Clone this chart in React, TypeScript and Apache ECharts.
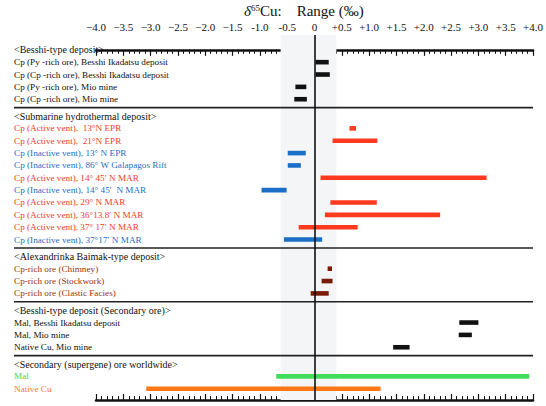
import React, { useEffect, useRef } from "react";
import * as echarts from "echarts";

// ---- data ----
const headers = [
  "<Besshi-type deposit>",
  "<Submarine hydrothermal deposit>",
  "<Alexandrinka Baimak-type deposit>",
  "<Besshi-type deposit (Secondary ore)>",
  "<Secondary (supergene) ore worldwide>",
];

const rowLabels: string[][] = [
  [
    "Cp (Py -rich ore), Besshi Ikadatsu deposit",
    "Cp (Cp -rich ore), Besshi Ikadatsu deposit",
    "Cp (Py -rich ore), Mio mine",
    "Cp (Cp -rich ore), Mio mine",
  ],
  [
    "Cp (Active vent),  13°N EPR",
    "Cp (Active vent),  21°N EPR",
    "Cp (Inactive vent), 13° N EPR",
    "Cp (Inactive vent), 86° W Galapagos Rift",
    "Cp (Active vent), 14° 45′ N MAR",
    "Cp (Inactive vent), 14° 45′  N MAR",
    "Cp (Active vent), 29° N MAR",
    "Cp (Active vent), 36°13.8′ N MAR",
    "Cp (Active vent), 37° 17′ N MAR",
    "Cp (Inactive vent), 37°17′ N MAR",
  ],
  [
    "Cp-rich ore (Chimney)",
    "Cp-rich ore (Stockwork)",
    "Cp-rich ore (Clastic Facies)",
  ],
  [
    "Mal, Besshi Ikadatsu deposit",
    "Mal, Mio mine",
    "Native Cu, Mio mine",
  ],
  ["Mal", "Native Cu"],
];

const rowLow: number[][] = [
  [0.02, 0.02, -0.35, -0.37],
  [0.64, 0.33, -0.49, -0.49, 0.11, -0.97, 0.29, 0.19, -0.29, -0.56],
  [0.24, 0.13, -0.07],
  [2.65, 2.64, 1.44],
  [-0.7, -3.08],
];

const rowHigh: number[][] = [
  [0.26, 0.28, -0.15, -0.14],
  [0.76, 1.15, -0.16, -0.25, 3.15, -0.51, 1.14, 2.3, 0.79, 0.14],
  [0.32, 0.33, 0.26],
  [3.0, 2.88, 1.74],
  [3.93, 1.21],
];

const rowKind: string[][] = [
  ["plain", "plain", "plain", "plain"],
  ["active", "active", "inactive", "inactive", "active", "inactive", "active", "active", "active", "inactive"],
  ["baimak", "baimak", "baimak"],
  ["plain", "plain", "plain"],
  ["mal", "cu"],
];

const commonBand = [-0.62, 0.4];
const xTicks = [-4, 4, 0.5];

// ---- styles ----
const textColor: Record<string, string> = {
  header: "#111111",
  plain: "#111111",
  active: "#f0402a",
  inactive: "#2a6ec2",
  baimak: "#9a3412",
  mal: "#44d65a",
  cu: "#ff7a22",
};
const barColor: Record<string, string> = {
  plain: "#111111",
  active: "#ff3a1e",
  inactive: "#1b6fc6",
  baimak: "#7a1a08",
  mal: "#40dc5c",
  cu: "#ff7814",
};

const SERIF = '"Liberation Serif", "DejaVu Serif", serif';
const GAP = 0.36;
const LABEL_X = 14;

type Line = { y: number; text: string; kind: string; header: boolean };

function buildLayout() {
  const lines: Line[] = [];
  const bars: number[][] = [];
  const barKinds: string[] = [];
  const seps: number[] = [];
  let k = 0;
  headers.forEach((h, s) => {
    const hy = k + s * GAP;
    if (s > 0) {
      const prev = lines[lines.length - 1].y;
      seps.push((prev + hy) / 2);
    }
    lines.push({ y: hy, text: h, kind: "header", header: true });
    k++;
    rowLabels[s].forEach((lab, i) => {
      const y = k + s * GAP;
      lines.push({ y, text: lab, kind: rowKind[s][i], header: false });
      bars.push([rowLow[s][i], rowHigh[s][i], y]);
      barKinds.push(rowKind[s][i]);
      k++;
    });
  });
  return { lines, bars, barKinds, seps };
}

function fmt(v: number) {
  if (Math.abs(v) < 1e-9) return "0";
  if (v > 0) return "+" + v.toFixed(1);
  return (v <= -1.5 ? "−" : "-") + Math.abs(v).toFixed(1);
}

export default function App() {
  const ref = useRef<HTMLDivElement>(null);
  useEffect(() => {
    if (!ref.current) return;
    const chart = echarts.init(ref.current, undefined, { renderer: "svg" });
    const { lines, bars, barKinds, seps } = buildLayout();

    const axisCommon = {
      type: "value",
      min: xTicks[0],
      max: xTicks[1],
      interval: xTicks[2],
      splitLine: { show: false },
      axisLine: { show: true, lineStyle: { color: "#111", width: 2.5 } },
      axisTick: { show: true, inside: true, length: 6, lineStyle: { color: "#111", width: 1.2 } },
      minorTick: { show: true, splitNumber: 5, length: 4, lineStyle: { color: "#111", width: 1 } },
    };

    chart.setOption({
      animation: false,
      backgroundColor: "#ffffff",
      grid: { left: 96, right: 6, top: 35, bottom: 6, containLabel: false },
      xAxis: [
        {
          ...axisCommon,
          position: "top",
          axisLabel: {
            show: true,
            margin: 3,
            color: "#111",
            fontFamily: SERIF,
            fontSize: 11,
            formatter: fmt,
          },
        },
        {
          ...axisCommon,
          position: "bottom",
          axisLabel: { show: false },
        },
      ],
      yAxis: { type: "value", inverse: true, min: -1.2, max: 28.35, show: false },
      graphic: [
        {
          type: "text",
          left: 244,
          top: 3,
          style: {
            text: "{d|δ}{s|65}{n|Cu:    Range (‰)}",
            rich: {
              d: { fontFamily: SERIF, fontSize: 15, fontStyle: "italic", fill: "#111" },
              s: { fontFamily: SERIF, fontSize: 9, fill: "#111", padding: [0, 0, 7, 0] },
              n: { fontFamily: SERIF, fontSize: 15, fill: "#111" },
            },
          },
        },
      ],
      series: [
        {
          type: "custom",
          name: "bars",
          xAxisIndex: 0,
          z: 3,
          data: bars,
          encode: { x: [0, 1], y: 2 },
          renderItem: (params: any, api: any) => {
            const lo = api.coord([api.value(0), api.value(2)]);
            const hi = api.coord([api.value(1), api.value(2)]);
            const h = 4.6;
            return {
              type: "rect",
              shape: { x: lo[0], y: lo[1] - h / 2, width: hi[0] - lo[0], height: h },
              style: { fill: barColor[barKinds[params.dataIndex]] },
            };
          },
          markArea: {
            silent: true,
            itemStyle: { color: "#f3f5f7" },
            data: [[{ xAxis: commonBand[0] }, { xAxis: commonBand[1] }]],
          },
          markLine: {
            silent: true,
            symbol: "none",
            label: { show: false },
            lineStyle: { color: "#111", width: 1.6, type: "solid" },
            data: [{ xAxis: 0 }],
          },
        },
        {
          type: "custom",
          name: "separators",
          xAxisIndex: 0,
          z: 2,
          data: seps.map((y) => [xTicks[1], y]),
          renderItem: (params: any, api: any) => {
            const p = api.coord([api.value(0), api.value(1)]);
            return {
              type: "line",
              shape: { x1: LABEL_X, y1: p[1], x2: p[0], y2: p[1] },
              style: { stroke: "#222", lineWidth: 1.6 },
            };
          },
        },
        {
          type: "custom",
          name: "labels",
          xAxisIndex: 0,
          z: 4,
          data: lines.map((l) => [xTicks[0], l.y]),
          renderItem: (params: any, api: any) => {
            const l = lines[params.dataIndex];
            const p = api.coord([api.value(0), api.value(1)]);
            return {
              type: "text",
              x: LABEL_X,
              y: p[1],
              style: {
                text: l.text,
                fill: textColor[l.kind],
                fontFamily: SERIF,
                fontSize: l.header ? 10 : 9.2,
                align: "left",
                verticalAlign: "middle",
              },
            };
          },
        },
      ],
    });
    return () => chart.dispose();
  }, []);
  return (
    <div
      ref={ref}
      style={{ position: "absolute", left: 0, top: 0, width: 546, height: 406 }}
    />
  );
}
